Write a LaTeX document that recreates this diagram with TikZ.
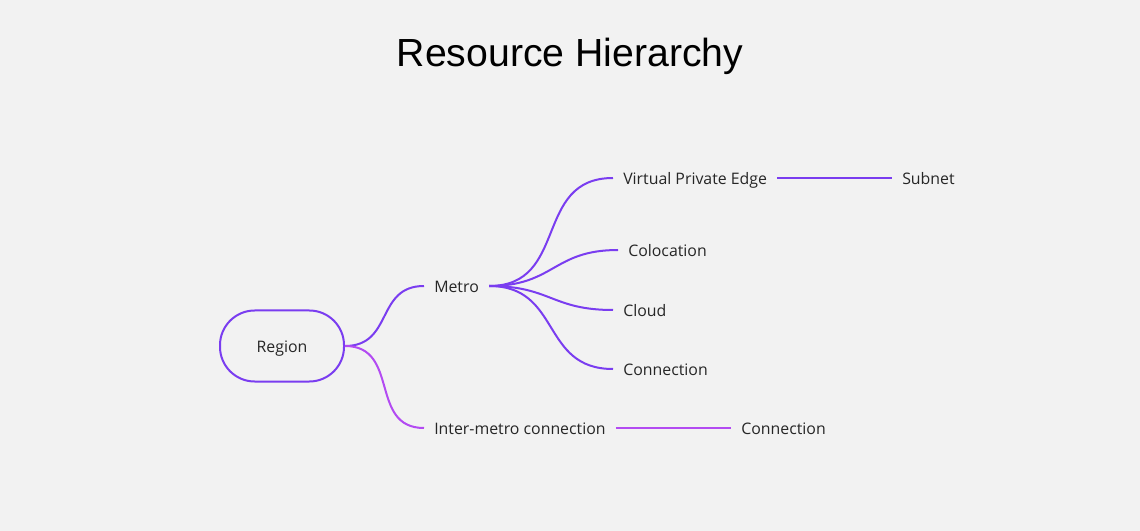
\documentclass[tikz,border=0pt]{standalone}
\usepackage{fontspec}
\setmainfont{Open Sans}
\newfontfamily\titlefont{Liberation Sans}
\definecolor{bgcol}{HTML}{F2F2F2}
\definecolor{mainpurple}{HTML}{7A3DF0}
\definecolor{lightpurple}{HTML}{B34BF2}
\tikzset{
  txt/.style={inner ysep=0pt, text height=0.95em, text depth=0pt, font=\fontsize{11.9}{14}\selectfont, text=black!85},
  label/.style={txt, anchor=west, inner xsep=7.5pt},
  branch/.style={line width=1.5pt, draw=mainpurple},
  soft/.style={out=0, in=180, looseness=1.25}
}
\begin{document}
\begin{tikzpicture}[x=0.75pt,y=-0.75pt]
	%background and title
	\fill[bgcol] (0,0) rectangle (1140,531);
	\useasboundingbox (0,0) rectangle (1140,531);
	\node[anchor=base, font=\titlefont\fontsize{29.4}{34}\selectfont] (title) at (570,67) {Resource Hierarchy};

	%root
	\node[txt, draw=mainpurple, line width=1.5pt, rounded corners=26pt, minimum width=93pt, minimum height=53.25pt] (region) at (282,346) {Region};

	%first level
	\node[label] (metro) at (424,286) {Metro};
	\node[label] (inter) at (424,428) {Inter-metro connection};

	%second level
	\node[label] (vpe) at (613,178) {Virtual Private Edge};
	\node[label] (coloc) at (618,250) {Colocation};
	\node[label] (cloud) at (613,310) {Cloud};
	\node[label] (conn) at (613,369) {Connection};
	\node[label] (subnet) at (892,178) {Subnet};
	\node[label] (interconn) at (731,428) {Connection};

	%connectors
	\draw[branch] (region.east) to[soft] (metro.west);
	\draw[branch, draw=lightpurple] (region.east) to[soft] (inter.west);
	\draw[branch] (metro.east) to[soft] (vpe.west);
	\draw[branch] (metro.east) to[soft] (coloc.west);
	\draw[branch] (metro.east) to[soft] (cloud.west);
	\draw[branch] (metro.east) to[soft] (conn.west);
	\draw[branch] (vpe.east) -- (subnet.west);
	\draw[branch, draw=lightpurple] (inter.east) -- (interconn.west);
\end{tikzpicture}
\end{document}
